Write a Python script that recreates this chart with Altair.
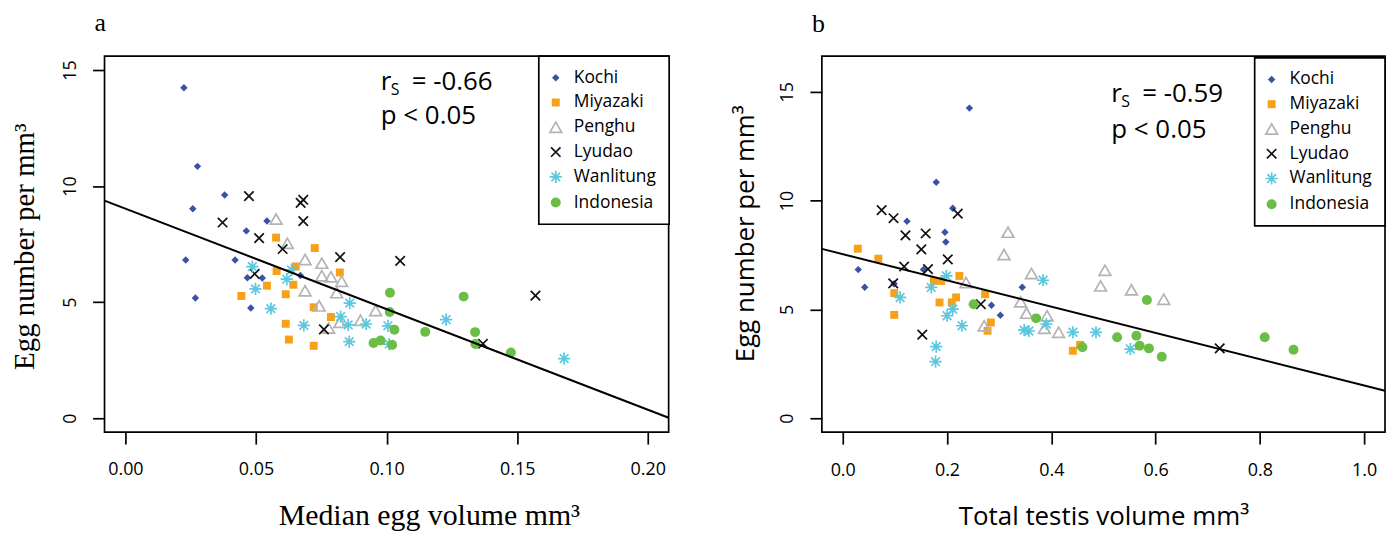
import altair as alt
import pandas as pd

SANS = "Open Sans"
SERIF = "Liberation Serif"

SITES = ["Kochi", "Miyazaki", "Penghu", "Lyudao", "Wanlitung", "Indonesia"]

# ---------- panel a: median egg volume vs egg number ----------
a_kochi_x = [0.0224, 0.0276, 0.0380, 0.0258, 0.0542, 0.0463, 0.0231, 0.0420, 0.0467, 0.0524, 0.0670, 0.0480, 0.0268]
a_kochi_y = [14.24, 10.85, 9.62, 9.02, 8.50, 8.07, 6.82, 6.82, 6.05, 6.04, 6.15, 4.75, 5.18]
a_miyazaki_x = [0.0577, 0.0725, 0.0579, 0.0652, 0.0821, 0.0542, 0.0643, 0.0444, 0.0614, 0.0721, 0.0787, 0.0614, 0.0626, 0.0721]
a_miyazaki_y = [7.78, 7.33, 6.34, 6.54, 6.28, 5.71, 5.75, 5.27, 5.34, 4.78, 4.36, 4.07, 3.39, 3.12]
a_penghu_x = [0.0577, 0.0620, 0.0688, 0.0752, 0.0752, 0.0787, 0.0828, 0.0688, 0.0809, 0.0742, 0.0958, 0.0900, 0.0821, 0.0778]
a_penghu_y = [8.58, 7.54, 6.84, 6.68, 6.14, 6.09, 5.90, 5.49, 5.41, 4.84, 4.64, 4.22, 4.13, 3.89]
a_lyudao_x = [0.0473, 0.0671, 0.0681, 0.0372, 0.0681, 0.0512, 0.0602, 0.0822, 0.1052, 0.0495, 0.1570, 0.0760, 0.1369]
a_lyudao_y = [9.57, 9.28, 9.41, 8.43, 8.49, 7.76, 7.29, 6.94, 6.78, 6.22, 5.28, 3.83, 3.21]
a_wanlitung_x = [0.0486, 0.0636, 0.0618, 0.0498, 0.0557, 0.0859, 0.0824, 0.0683, 0.0853, 0.0922, 0.1005, 0.0857, 0.1010, 0.1228, 0.1680]
a_wanlitung_y = [6.53, 6.39, 5.99, 5.57, 4.72, 4.96, 4.38, 4.00, 4.02, 4.06, 3.98, 3.30, 3.19, 4.25, 2.57]
a_indonesia_x = [0.1013, 0.1295, 0.1012, 0.1030, 0.1148, 0.1339, 0.1340, 0.0950, 0.0977, 0.1021, 0.1476]
a_indonesia_y = [5.41, 5.24, 4.58, 3.81, 3.72, 3.71, 3.20, 3.24, 3.35, 3.16, 2.83]

# ---------- panel b: total testis volume vs egg number ----------
b_kochi_x = [0.2430, 0.1793, 0.2110, 0.1232, 0.1960, 0.1977, 0.0298, 0.1548, 0.0422, 0.3443, 0.2853, 0.3023, 0.0985]
b_kochi_y = [14.25, 10.84, 9.65, 9.05, 8.55, 8.10, 6.83, 6.83, 6.02, 6.02, 5.19, 4.73, 6.18]
b_miyazaki_x = [0.0289, 0.0683, 0.1749, 0.1888, 0.2237, 0.0988, 0.2732, 0.1856, 0.2092, 0.2174, 0.0988, 0.2840, 0.2777, 0.4414, 0.4553]
b_miyazaki_y = [7.79, 7.33, 6.31, 6.31, 6.54, 5.75, 5.70, 5.32, 5.32, 5.55, 4.75, 4.40, 4.02, 3.10, 3.37]
b_penghu_x = [0.3169, 0.3093, 0.3620, 0.2364, 0.3411, 0.3525, 0.3919, 0.3868, 0.4140, 0.2712, 0.5029, 0.4946, 0.5537, 0.6157]
b_penghu_y = [8.55, 7.52, 6.65, 6.24, 5.35, 4.83, 4.71, 4.13, 3.95, 4.25, 6.80, 6.08, 5.90, 5.47]
b_lyudao_x = [0.0746, 0.0974, 0.1203, 0.1590, 0.1507, 0.2015, 0.1178, 0.1635, 0.0968, 0.1526, 0.2206, 0.2649, 0.7230]
b_lyudao_y = [9.56, 9.19, 8.40, 8.49, 7.76, 7.30, 6.97, 6.85, 6.20, 3.84, 9.40, 5.24, 3.21]
b_wanlitung_x = [0.1989, 0.1698, 0.1101, 0.2110, 0.2002, 0.2288, 0.3480, 0.3570, 0.3906, 0.3842, 0.4414, 0.4857, 0.5517, 0.1793, 0.1780]
b_wanlitung_y = [6.54, 6.01, 5.55, 5.01, 4.71, 4.25, 4.05, 4.01, 4.33, 6.34, 3.95, 3.95, 3.18, 3.29, 2.60]
b_indonesia_x = [0.2510, 0.3709, 0.5834, 0.5263, 0.5632, 0.5695, 0.5872, 0.6119, 0.4597, 0.8093, 0.8645]
b_indonesia_y = [5.24, 4.59, 5.43, 3.72, 3.79, 3.33, 3.21, 2.83, 3.26, 3.72, 3.15]

# regression lines (intercept, slope) and statistics
fit_a = (9.03, -43.3)
fit_b = (7.54, -6.035)
stat_a_text = ["r", "S", "= -0.66", "p < 0.05"]
stat_b_text = ["r", "S", "= -0.59", "p < 0.05"]
stat_a_pos = (0.0978, 14.16, 12.66)   # x, baseline of r-line, baseline of p-line
stat_b_pos = (0.5151, 14.54, 12.89)

# axis domains and ticks
xdom_a = [-0.008, 0.208]
ydom_a = [-0.6, 15.6]
xdom_b = [-0.04, 1.04]
ydom_b = [-0.64, 16.64]
xticks_a = [0.0, 0.05, 0.10, 0.15, 0.20]
xticks_b = [0.0, 0.2, 0.4, 0.6, 0.8, 1.0]
yticks = [0, 5, 10, 15]

# styles
X_PATH = "M-1,-1L1,1M-1,1L1,-1"
AST_PATH = "M0,-1L0,1M-1,0L1,0M-0.71,-0.71L0.71,0.71M-0.71,0.71L0.71,-0.71"
FILLS = ["#3953a4", "#f7a11a", "transparent", "transparent", "transparent", "#6abd45"]
STROKES = ["transparent", "transparent", "#b3b3b3", "#111111", "#5bc8de", "transparent"]
SHAPES = ["diamond", "square", "triangle-up", X_PATH, AST_PATH, "circle"]
SIZES = [56, 64, 140, 90, 150, 100]

W_A, H_A = 567, 378
W_B, H_B = 566, 378


def frame(xs_list, ys_list):
    rows = []
    for site, xs, ys in zip(SITES, xs_list, ys_list):
        for x, y in zip(xs, ys):
            rows.append({"site": site, "x": x, "y": y})
    return pd.DataFrame(rows)


df_a = frame([a_kochi_x, a_miyazaki_x, a_penghu_x, a_lyudao_x, a_wanlitung_x, a_indonesia_x],
             [a_kochi_y, a_miyazaki_y, a_penghu_y, a_lyudao_y, a_wanlitung_y, a_indonesia_y])
df_b = frame([b_kochi_x, b_miyazaki_x, b_penghu_x, b_lyudao_x, b_wanlitung_x, b_indonesia_x],
             [b_kochi_y, b_miyazaki_y, b_penghu_y, b_lyudao_y, b_wanlitung_y, b_indonesia_y])


def panel(df, fit, stat_text, stat_pos, xdom, ydom, xaxis, yaxis, w, h, lx, ly, letter):
    xs = alt.Scale(domain=xdom, nice=False, zero=False)
    ys = alt.Scale(domain=ydom, nice=False, zero=False)
    leg = alt.Legend(title=None, orient="none", legendX=lx, legendY=ly)
    pts = alt.Chart(df).mark_point(filled=False, opacity=1, strokeWidth=1.7).encode(
        x=alt.X("x:Q", scale=xs, axis=xaxis),
        y=alt.Y("y:Q", scale=ys, axis=yaxis),
        fill=alt.Fill("site:N", scale=alt.Scale(domain=SITES, range=FILLS), legend=leg),
        stroke=alt.Stroke("site:N", scale=alt.Scale(domain=SITES, range=STROKES), legend=leg),
        shape=alt.Shape("site:N", scale=alt.Scale(domain=SITES, range=SHAPES), legend=leg),
        size=alt.Size("site:N", scale=alt.Scale(type="ordinal", domain=SITES, range=SIZES), legend=leg),
    )
    line_df = pd.DataFrame({"x": xdom, "y": [fit[0] + fit[1] * v for v in xdom]})
    line = alt.Chart(line_df).mark_line(color="black", strokeWidth=2, clip=True).encode(
        x=alt.X("x:Q", scale=xs), y=alt.Y("y:Q", scale=ys))
    sx, sy1, sy2 = stat_pos
    main_df = pd.DataFrame({"x": [sx, sx], "y": [sy1, sy2], "t": [stat_text[0], stat_text[3]]})
    sub_df = pd.DataFrame({"x": [sx], "y": [sy1], "t": [stat_text[1]]})
    eq_df = pd.DataFrame({"x": [sx], "y": [sy1], "t": [stat_text[2]]})
    txt_main = alt.Chart(main_df).mark_text(align="left", baseline="alphabetic", font=SANS, fontSize=26, color="black").encode(
        x=alt.X("x:Q", scale=xs), y=alt.Y("y:Q", scale=ys), text="t:N")
    txt_sub = alt.Chart(sub_df).mark_text(align="left", baseline="alphabetic", font=SANS, fontSize=16, dx=10, dy=5.6, color="black").encode(
        x=alt.X("x:Q", scale=xs), y=alt.Y("y:Q", scale=ys), text="t:N")
    txt_eq = alt.Chart(eq_df).mark_text(align="left", baseline="alphabetic", font=SANS, fontSize=26, dx=31, color="black").encode(
        x=alt.X("x:Q", scale=xs), y=alt.Y("y:Q", scale=ys), text="t:N")
    return alt.layer(pts, line, txt_main, txt_sub, txt_eq).properties(
        width=w, height=h,
        title=alt.TitleParams(text=letter, anchor="start", frame="group", dx=-10, offset=-2,
                              font=SERIF, fontSize=26, fontWeight="normal", baseline="alphabetic", color="black"),
    )


xaxis_a = alt.Axis(values=xticks_a, format=".2f", title="Median egg volume mm³", titleFont=SERIF, titleFontSize=30,
                   titleX=326, titleY=92.6, titleAlign="center", titleBaseline="alphabetic",
                   labelPadding=31, labelBaseline="alphabetic", labelFlush=False, labelOverlap=False)
yaxis_a = alt.Axis(values=yticks, title="Egg number per mm³", titleFont=SERIF, titleFontSize=29, titleAngle=270,
                   titleX=-71, titleY=H_A / 2 + 2, titleAlign="center", titleBaseline="alphabetic",
                   labelAngle=270, labelAlign="center", labelBaseline="alphabetic", labelPadding=17.5, labelOverlap=False)
xaxis_b = alt.Axis(values=xticks_b, format=".1f", title="Total testis volume mm³", titleFont=SANS, titleFontSize=26,
                   titleX=W_B / 2, titleY=92.6, titleAlign="center", titleBaseline="alphabetic",
                   labelPadding=32, labelBaseline="alphabetic", labelFlush=False, labelOverlap=False)
yaxis_b = alt.Axis(values=yticks, title="Egg number per mm³", titleFont=SANS, titleFontSize=26, titleAngle=270,
                   titleX=-68.5, titleY=H_B / 2 - 11, titleAlign="center", titleBaseline="alphabetic",
                   labelAngle=270, labelAlign="center", labelBaseline="alphabetic", labelPadding=17.8, labelOverlap=False)

pa = panel(df_a, fit_a, stat_a_text, stat_a_pos, xdom_a, ydom_a, xaxis_a, yaxis_a, W_A, H_A, 436.5, 0, "a")
pb = panel(df_b, fit_b, stat_b_text, stat_b_pos, xdom_b, ydom_b, xaxis_b, yaxis_b, W_B, H_B, 435, 1.7, "b")

chart = alt.hconcat(pa, pb, spacing=60).resolve_scale(
    x="independent", y="independent", fill="independent", stroke="independent",
    shape="independent", size="independent"
).resolve_legend(
    fill="independent", stroke="independent", shape="independent", size="independent"
).properties(
    padding={"left": 2, "top": 0, "right": 0, "bottom": 0}
).configure_view(
    stroke="black", strokeWidth=1.7
).configure_axis(
    domain=False, grid=False, tickColor="black", tickWidth=1.7, tickSize=12,
    labelFont=SANS, labelFontSize=18, labelColor="black", titleColor="black", titleFontWeight="normal"
).configure_legend(
    padding=13, rowPadding=5.9, labelOffset=9.3, symbolOffset=-4.7, labelFont=SANS, labelFontSize=17.5,
    labelColor="black", symbolStrokeWidth=1.7, strokeColor="black", fillColor="white", strokeWidth=1.7
)

chart.save("out.html", embed_options={"renderer": "svg", "actions": False})
